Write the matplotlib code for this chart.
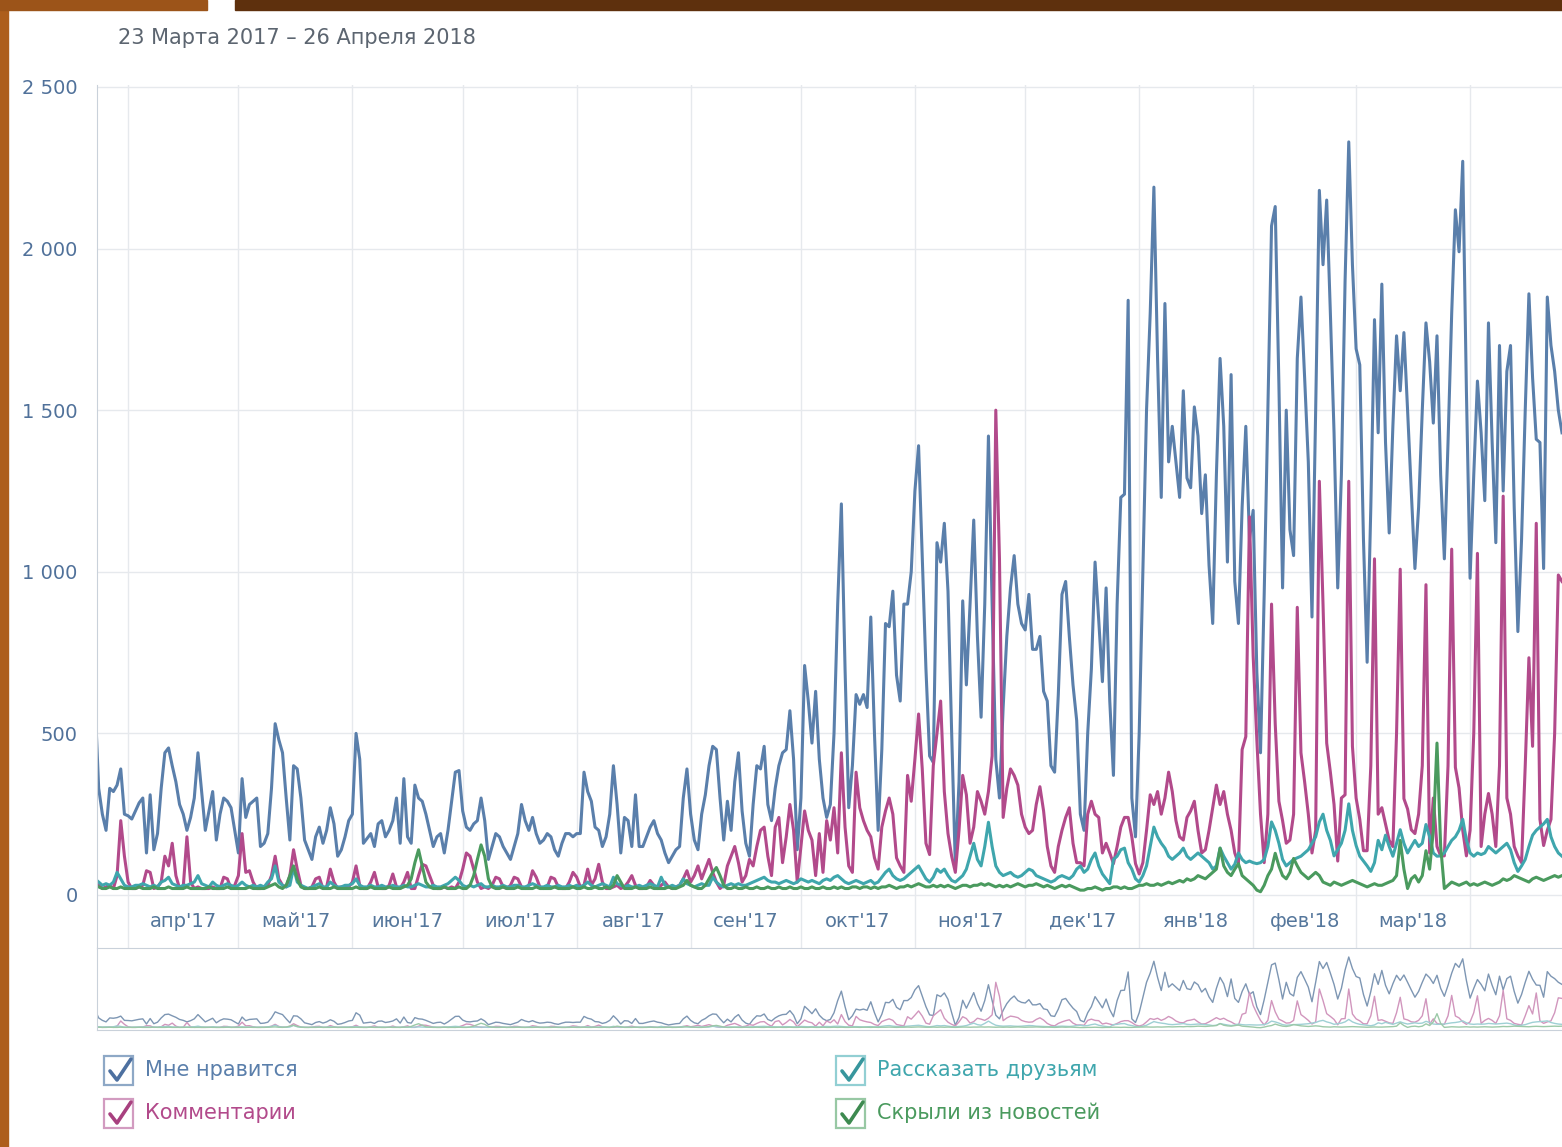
import numpy as np
import pandas as pd
import matplotlib
matplotlib.use("Agg")
from matplotlib import pyplot as plt
from matplotlib.patches import Rectangle
from matplotlib.lines import Line2D

plt.rcParams['font.family'] = ['DejaVu Sans']

# daily values, 23 Mar 2017 - 26 Apr 2018
days = pd.date_range("2017-03-23", "2018-04-26", freq="D")

likes = [
    600, 330, 250, 200, 330, 320, 340, 390, 250, 245,
    235, 260, 285, 300, 130, 310, 140, 190, 330, 440,
    455, 400, 350, 280, 250, 200, 240, 300, 440, 320,
    200, 260, 320, 170, 250, 300, 290, 270, 200, 130,
    360, 240, 280, 290, 300, 150, 160, 190, 330, 530,
    480, 440, 300, 170, 400, 390, 300, 170, 140, 110,
    180, 210, 160, 200, 270, 220, 120, 140, 180, 230,
    250, 500, 420, 160, 175, 190, 150, 220, 230, 180,
    200, 230, 300, 160, 360, 180, 160, 340, 300, 290,
    250, 200, 150, 180, 190, 130, 200, 290, 380, 385,
    260, 210, 200, 220, 230, 300, 230, 110, 150, 190,
    180, 150, 130, 110, 150, 190, 280, 230, 200, 240,
    190, 160, 170, 190, 180, 140, 120, 160, 190, 190,
    180, 190, 190, 380, 320, 290, 210, 200, 150, 180,
    250, 400, 280, 130, 240, 230, 150, 310, 150, 150,
    180, 210, 230, 190, 170, 130, 100, 120, 140, 150,
    300, 390, 250, 170, 140, 250, 310, 400, 460, 450,
    300, 170, 290, 200, 350, 440, 260, 160, 120, 280,
    400, 390, 460, 280, 230, 330, 400, 440, 450, 570,
    420, 140, 300, 710, 600, 470, 630, 420, 300, 240,
    280, 500, 900, 1210, 700, 270, 400, 620, 590, 620,
    580, 860, 500, 200, 450, 840, 830, 940, 680, 600,
    900, 900, 1000, 1250, 1390, 1050, 700, 430, 410, 1090,
    1030, 1150, 940, 500, 90, 350, 910, 650, 900, 1160,
    800, 550, 900, 1420, 900, 420, 300, 580, 800, 950,
    1050, 900, 840, 820, 930, 760, 760, 800, 630, 600,
    400, 380, 620, 930, 970, 800, 650, 540, 250, 200,
    500, 700, 1030, 850, 660, 950, 600, 370, 900, 1230,
    1240, 1840, 300, 180, 500, 1000, 1500, 1800, 2190, 1660,
    1230, 1830, 1340, 1450, 1340, 1230, 1560, 1290, 1260, 1510,
    1420, 1180, 1300, 1020, 840, 1300, 1660, 1450, 1030, 1610,
    970, 840, 1200, 1450, 1100, 1190, 690, 440, 930, 1500,
    2070, 2130, 1580, 950, 1500, 1130, 1050, 1660, 1850, 1600,
    1340, 860, 1500, 2180, 1950, 2150, 1800, 1430, 950, 1300,
    1900, 2330, 1950, 1690, 1640, 1100, 720, 1200, 1780, 1430,
    1890, 1400, 1120, 1450, 1730, 1560, 1740, 1500, 1250, 1010,
    1200, 1500, 1770, 1650, 1460, 1730, 1300, 1040, 1400, 1800,
    2120, 1990, 2270, 1560, 980, 1300, 1590, 1430, 1220, 1770,
    1400, 1090, 1700, 1250, 1620, 1700, 1200, 815, 1100, 1500,
    1860, 1600, 1410, 1400, 1010, 1850, 1700, 1620, 1500, 1430,
]

comments = [
    40, 30, 20, 25, 30, 20, 60, 230, 120, 40,
    20, 20, 25, 30, 75, 70, 20, 25, 40, 120,
    90, 160, 60, 20, 25, 180, 40, 20, 25, 20,
    20, 20, 25, 20, 20, 55, 50, 20, 30, 60,
    190, 70, 75, 40, 20, 20, 25, 30, 60, 120,
    50, 30, 25, 60, 140, 80, 30, 20, 20, 25,
    50, 55, 20, 25, 80, 40, 20, 25, 25, 25,
    40, 90, 30, 20, 20, 40, 70, 25, 20, 20,
    30, 65, 25, 20, 40, 70, 20, 20, 60, 95,
    90, 60, 30, 20, 20, 25, 20, 25, 20, 40,
    80, 130, 120, 80, 40, 20, 25, 20, 30, 55,
    50, 25, 20, 30, 55, 50, 25, 20, 30, 75,
    55, 25, 20, 25, 55, 50, 25, 20, 20, 40,
    70, 55, 25, 30, 80, 30, 50, 95, 40, 20,
    20, 25, 30, 20, 25, 40, 60, 30, 20, 20,
    25, 45, 30, 20, 30, 40, 25, 20, 25, 30,
    50, 75, 40, 60, 90, 50, 80, 110, 70, 40,
    20, 30, 90, 120, 150, 100, 40, 60, 110, 90,
    150, 200, 210, 120, 60, 210, 240, 100, 180, 280,
    200, 40, 150, 260, 200, 170, 60, 190, 70, 230,
    170, 270, 130, 440, 210, 90, 70, 380, 270, 230,
    200, 180, 115, 80, 210, 260, 300, 250, 115, 90,
    70, 370, 290, 420, 560, 390, 160, 125, 400, 500,
    600, 320, 190, 120, 70, 200, 370, 310, 160, 210,
    320, 290, 250, 320, 430, 1500, 1040, 240, 330, 390,
    370, 340, 250, 210, 190, 200, 280, 335, 260, 150,
    90, 70, 150, 200, 240, 270, 160, 100, 100, 90,
    250, 290, 250, 240, 130, 160, 130, 97, 150, 210,
    240, 240, 180, 97, 65, 100, 200, 310, 280, 320,
    250, 300, 380, 320, 230, 180, 170, 240, 260, 290,
    200, 130, 140, 200, 270, 340, 280, 320, 250, 200,
    130, 97, 450, 490, 1170, 740, 480, 250, 100, 250,
    900, 530, 290, 230, 160, 170, 250, 890, 440, 350,
    250, 130, 200, 1280, 900, 470, 380, 280, 105, 300,
    310, 1280, 460, 300, 234, 137, 137, 400, 1040, 250,
    270, 220, 169, 150, 500, 1008, 298, 266, 202, 190,
    250, 400, 960, 130, 300, 150, 121, 121, 400, 1070,
    395, 331, 200, 121, 200, 500, 1057, 150, 250, 314,
    250, 150, 400, 1234, 300, 250, 150, 121, 100, 400,
    734, 460, 1150, 234, 153, 200, 234, 500, 990, 970,
]

shares = [
    50, 40, 30, 35, 30, 40, 70, 50, 30, 25,
    25, 30, 30, 35, 30, 25, 30, 25, 40, 45,
    55, 35, 30, 25, 30, 30, 35, 40, 60, 35,
    30, 25, 40, 30, 25, 30, 35, 30, 25, 30,
    40, 30, 25, 30, 25, 30, 25, 40, 50, 90,
    40, 30, 25, 30, 85, 40, 30, 25, 20, 25,
    30, 35, 25, 25, 40, 30, 25, 25, 30, 30,
    35, 50, 30, 25, 25, 30, 25, 25, 30, 25,
    25, 30, 25, 25, 30, 25, 25, 30, 35, 30,
    25, 25, 30, 25, 25, 30, 35, 45, 55, 45,
    30, 25, 30, 25, 30, 35, 25, 25, 30, 25,
    25, 30, 25, 25, 30, 30, 25, 25, 30, 35,
    30, 25, 25, 30, 25, 25, 30, 25, 25, 30,
    25, 30, 25, 30, 40, 30, 25, 30, 35, 30,
    25, 55, 35, 30, 25, 30, 25, 25, 30, 25,
    30, 35, 30, 25, 55, 30, 25, 30, 25, 30,
    50, 35, 30, 25, 30, 35, 30, 30, 55, 40,
    30, 25, 30, 35, 30, 35, 30, 30, 35, 40,
    45, 50, 55, 45, 40, 40, 35, 40, 45, 40,
    35, 40, 50, 45, 40, 45, 40, 35, 45, 50,
    45, 55, 60, 50, 40, 35, 40, 45, 40, 35,
    40, 45, 35, 40, 55, 70, 80, 60, 50, 45,
    50, 60, 70, 80, 90, 70, 50, 40, 55, 80,
    70, 80, 60, 45, 40, 50, 60, 80, 120, 160,
    110, 90, 150, 225, 150, 90, 70, 60, 65, 70,
    60, 55, 60, 70, 80, 75, 60, 55, 50, 45,
    40, 45, 55, 60, 55, 50, 60, 80, 90, 70,
    80, 110, 130, 90, 65, 50, 35, 110, 120, 140,
    145, 100, 80, 50, 40, 60, 90, 150, 210, 180,
    160, 145, 120, 110, 120, 130, 145, 120, 110, 120,
    130, 120, 110, 100, 80, 90, 145, 120, 100, 80,
    95, 130, 110, 100, 105, 100, 97, 100, 110, 150,
    226, 200, 160, 110, 90, 100, 110, 115, 120, 130,
    140, 160, 180, 226, 250, 200, 169, 121, 140, 160,
    200, 282, 200, 153, 120, 105, 90, 73, 100, 169,
    140, 185, 150, 120, 160, 202, 160, 130, 150, 169,
    150, 160, 218, 180, 130, 120, 121, 130, 150, 169,
    180, 200, 234, 170, 130, 120, 130, 125, 130, 150,
    140, 130, 140, 150, 160, 140, 100, 73, 90, 110,
    150, 185, 200, 210, 220, 234, 180, 150, 130, 120,
]

hidden = [
    30, 25, 20, 20, 25, 20, 20, 25, 20, 20,
    20, 20, 25, 20, 20, 20, 25, 20, 20, 20,
    25, 20, 20, 20, 20, 25, 20, 20, 20, 20,
    20, 25, 20, 20, 20, 20, 25, 20, 20, 20,
    20, 20, 25, 20, 20, 20, 20, 25, 30, 35,
    25, 20, 30, 60, 90, 50, 25, 20, 20, 20,
    20, 25, 20, 20, 20, 25, 20, 20, 20, 20,
    20, 25, 20, 20, 20, 25, 20, 20, 20, 20,
    25, 20, 20, 20, 25, 30, 50, 100, 140, 90,
    40, 25, 20, 20, 20, 25, 20, 20, 20, 25,
    20, 20, 30, 60, 110, 155, 120, 50, 25, 20,
    20, 25, 20, 20, 20, 25, 20, 20, 20, 20,
    25, 20, 20, 20, 20, 25, 20, 20, 20, 20,
    25, 20, 20, 25, 20, 20, 25, 20, 20, 25,
    20, 30, 60, 40, 20, 20, 20, 25, 20, 20,
    20, 25, 20, 20, 20, 20, 25, 20, 20, 25,
    30, 45, 30, 25, 20, 20, 30, 50, 70, 85,
    60, 30, 20, 20, 25, 20, 20, 25, 20, 20,
    25, 20, 20, 25, 20, 20, 25, 20, 20, 25,
    20, 20, 25, 20, 20, 25, 20, 20, 25, 20,
    20, 25, 20, 25, 20, 20, 25, 25, 20, 25,
    25, 20, 25, 20, 25, 25, 30, 25, 20, 25,
    25, 30, 25, 30, 35, 30, 25, 25, 30, 25,
    30, 25, 30, 25, 20, 25, 30, 30, 25, 30,
    30, 35, 30, 35, 30, 25, 30, 25, 30, 25,
    30, 35, 30, 25, 30, 30, 35, 30, 25, 30,
    25, 20, 25, 30, 25, 30, 25, 20, 15, 15,
    20, 20, 25, 20, 15, 20, 20, 25, 25, 20,
    25, 20, 20, 25, 30, 30, 35, 30, 30, 35,
    30, 35, 40, 35, 40, 45, 40, 50, 45, 50,
    60, 55, 50, 60, 70, 80, 145, 90, 70, 60,
    80, 97, 60, 50, 40, 30, 15, 10, 30, 60,
    80, 129, 90, 60, 50, 70, 113, 90, 70, 60,
    50, 60, 70, 60, 40, 35, 30, 40, 35, 30,
    35, 40, 45, 40, 35, 30, 25, 30, 35, 30,
    30, 35, 40, 45, 60, 169, 80, 20, 50, 60,
    40, 60, 137, 80, 200, 470, 150, 20, 30, 40,
    35, 30, 35, 40, 30, 35, 30, 35, 40, 35,
    30, 35, 40, 50, 45, 50, 60, 55, 50, 45,
    40, 50, 55, 50, 45, 50, 55, 60, 55, 60,
]

month_starts = pd.date_range("2017-04-01", "2018-04-01", freq="MS")
month_labels = ["апр'17", "май'17", "июн'17", "июл'17", "авг'17", "сен'17",
                "окт'17", "ноя'17", "дек'17", "янв'18", "фев'18", "мар'18"]
y_ticks = [0, 500, 1000, 1500, 2000, 2500]
y_labels = ["0", "500", "1 000", "1 500", "2 000", "2 500"]

series_names = ["Мне нравится", "Комментарии", "Рассказать друзьям", "Скрыли из новостей"]
line_colors = ["#5a7fab", "#b24a8b", "#3fa6ad", "#4a9a5e"]
nav_colors = ["#7d96b3", "#d196bd", "#9fd0d4", "#9cc9a8"]

W, H = 1562, 1147
fig = plt.figure(figsize=(W / 100, H / 100), dpi=100)
fig.patch.set_facecolor("white")


def fx(px):
    return px / W


def fy(py):
    return 1 - py / H


# brown frame of the screenshot
fig.add_artist(Rectangle((0, 0), fx(8), 1, transform=fig.transFigure, color="#ad5e1c", zorder=5))
fig.add_artist(Rectangle((0, fy(10)), fx(207), 10 / H, transform=fig.transFigure, color="#9c5419", zorder=5))
fig.add_artist(Rectangle((fx(235), fy(10)), 1 - fx(235), 10 / H, transform=fig.transFigure, color="#5e300d", zorder=5))

fig.text(fx(118), fy(38), "23 Марта 2017 – 26 Апреля 2018", fontsize=15, color="#5c6570",
         ha="left", va="center")

day0 = days[0]

# main chart
ax = fig.add_axes([fx(97), fy(948), 1 - fx(97), fy(85) - fy(948)])
ax.set_facecolor("white")
for v in y_ticks:
    ax.axhline(v, color="#e6e9ed", lw=1, zorder=0)
for m in month_starts:
    ax.axvline(m, color="#e6e9ed", lw=1, zorder=0)

all_series = [likes, comments, shares, hidden]
for vals, c in zip(all_series, line_colors):
    ax.plot(days, vals, color=c, lw=2.2, solid_joinstyle="round")

ax.set_xlim(day0 + pd.Timedelta(hours=13), days[-1])
ax.set_ylim(-164, 2506)
ax.set_yticks(y_ticks, y_labels)
ax.set_xticks([])
ax.tick_params(axis="y", length=0, pad=14, labelsize=14, labelcolor="#50719a")
for s in ["top", "right", "bottom"]:
    ax.spines[s].set_visible(False)
ax.spines["left"].set_color("#c9d1da")

for i, lab in enumerate(month_labels):
    mid = month_starts[i] + (month_starts[i + 1] - month_starts[i]) / 2
    ax.text(mid, -82, lab, ha="center", va="center", fontsize=14, color="#55779c")

# small navigator chart
nav = fig.add_axes([fx(97), fy(1030), 1 - fx(97), fy(948) - fy(1030)])
for vals, c in zip(all_series, nav_colors):
    nav.plot(days, vals, color=c, lw=1)
nav.set_xlim(day0 + pd.Timedelta(hours=13), days[-1])
nav.set_ylim(-66, 2625)
nav.set_xticks([])
nav.set_yticks([])
nav.spines["right"].set_visible(False)
for s in ["top", "left", "bottom"]:
    nav.spines[s].set_color("#c9d1da")

# legend with check boxes
box_edges = ["#8ea8c6", "#d29bc0", "#92cfd3", "#98c8a4"]
checks = ["#4d70a0", "#a8407f", "#37969d", "#3d8a50"]
legend_pos = [(104, 1056), (104, 1099), (836, 1056), (836, 1099)]
for name, (x, y), c_txt, c_box, c_chk in zip(series_names, legend_pos, line_colors, box_edges, checks):
    fig.add_artist(Rectangle((fx(x), fy(y + 29)), 29 / W, 29 / H, transform=fig.transFigure,
                             facecolor="white", edgecolor=c_box, lw=1.6))
    fig.add_artist(Line2D([fx(x + 6), fx(x + 13), fx(x + 27)], [fy(y + 15), fy(y + 24), fy(y + 3)],
                          transform=fig.transFigure, color=c_chk, lw=2.6, solid_capstyle="round"))
    fig.text(fx(x + 41), fy(y + 14), name, fontsize=15, color=c_txt, ha="left", va="center")

fig.savefig("out.png", dpi=100)
